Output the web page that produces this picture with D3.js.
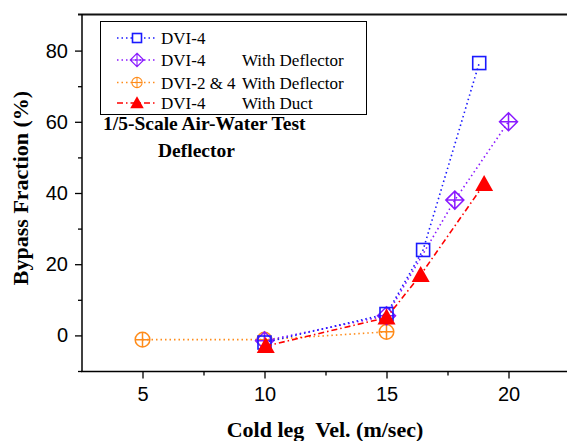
<!DOCTYPE html>
<html><head><meta charset="utf-8">
<script src="https://cdn.jsdelivr.net/npm/d3@7"></script>
<style>body{margin:0;background:#fff;} svg{display:block;}</style>
</head><body>
<svg id="c" width="567" height="441"></svg>
<script>
const seriesNames = ["DVI-4", "DVI-4", "DVI-2 & 4", "DVI-4"];
const seriesNotes = ["", "With Deflector", "With Deflector", "With Duct"];
const dvi4 = [[10,-2],[15,6],[16.5,24],[18.8,76.5]];
const dvi4Deflector = [[10,-1.5],[15,5.5],[17.8,38],[20,60]];
const dvi24Deflector = [[5,-1.2],[10,-1.2],[15,1]];
const dvi4Duct = [[10.05,-3],[15,5],[16.4,17],[19,42.5]];
const xTicks = [5,10,15,20];
const yTicks = [0,20,40,60,80];

const svg = d3.select("#c");
const x = d3.scaleLinear().domain([2.5,22.5]).range([81.5,569.5]);
const y = d3.scaleLinear().domain([-10,90]).range([371,15]);

const series = [
  {data:dvi4, color:"#1a1aff", dash:"1.5,3", marker:"square"},
  {data:dvi4Deflector, color:"#8a1aff", dash:"1.5,3", marker:"diamond"},
  {data:dvi24Deflector, color:"#ff8c1a", dash:"1.5,3", marker:"circle"},
  {data:dvi4Duct, color:"#ff0000", dash:"6,3,1.5,3", marker:"triangle"}
];

function drawMarker(g, type, cx, cy, color){
  if(type==="square"){
    g.append("rect").attr("x",cx-6.5).attr("y",cy-6.5).attr("width",13).attr("height",13)
      .attr("fill","none").attr("stroke",color).attr("stroke-width",1.6);
  } else if(type==="diamond"){
    const r=9;
    g.append("path").attr("d",`M${cx},${cy-r}L${cx+r},${cy}L${cx},${cy+r}L${cx-r},${cy}Z M${cx},${cy-r}V${cy+r} M${cx-r},${cy}H${cx+r}`)
      .attr("fill","none").attr("stroke",color).attr("stroke-width",1.5);
  } else if(type==="circle"){
    const r=7.3;
    g.append("circle").attr("cx",cx).attr("cy",cy).attr("r",r).attr("fill","none").attr("stroke",color).attr("stroke-width",1.5);
    g.append("path").attr("d",`M${cx},${cy-r}V${cy+r} M${cx-r},${cy}H${cx+r}`).attr("stroke",color).attr("stroke-width",1.5);
  } else {
    g.append("path").attr("d",`M${cx},${cy-9}L${cx+9},${cy+7}L${cx-9},${cy+7}Z`).attr("fill",color);
  }
}

// axes frame
svg.append("line").attr("x1",78).attr("x2",567).attr("y1",14.5).attr("y2",14.5).attr("stroke","#111").attr("stroke-width",2);
svg.append("line").attr("x1",82).attr("x2",82).attr("y1",14).attr("y2",372).attr("stroke","#000").attr("stroke-width",1.5);
svg.append("line").attr("x1",81).attr("x2",567).attr("y1",371.5).attr("y2",371.5).attr("stroke","#000").attr("stroke-width",1.5);

const xAxis = d3.axisBottom(x).tickValues(xTicks).tickSize(7).tickFormat(d3.format("d"));
const gx = svg.append("g").attr("transform","translate(0,371.5)").call(xAxis);
gx.select(".domain").remove();
gx.selectAll("line").attr("stroke","#000").attr("stroke-width",1.3);
gx.selectAll("text").attr("font-family","Liberation Sans, Arial, sans-serif").attr("font-size",20).attr("fill","#000").attr("dy","0.95em");
const gxm = svg.append("g").attr("transform","translate(0,371.5)").call(d3.axisBottom(x).tickValues([7.5,12.5,17.5]).tickSize(4).tickFormat(""));
gxm.select(".domain").remove(); gxm.selectAll("line").attr("stroke","#000").attr("stroke-width",1.3);

const yAxis = d3.axisLeft(y).tickValues(yTicks).tickSize(7).tickPadding(7).tickFormat(d3.format("d"));
const gy = svg.append("g").attr("transform","translate(82,0)").call(yAxis);
gy.select(".domain").remove();
gy.selectAll("line").attr("stroke","#000").attr("stroke-width",1.3);
gy.selectAll("text").attr("font-family","Liberation Sans, Arial, sans-serif").attr("font-size",20).attr("fill","#000");
const gym = svg.append("g").attr("transform","translate(82,0)").call(d3.axisLeft(y).tickValues([-10,10,30,50,70]).tickSize(4).tickFormat(""));
gym.select(".domain").remove(); gym.selectAll("line").attr("stroke","#000").attr("stroke-width",1.3);

// titles
svg.append("text").attr("x",325).attr("y",437).attr("text-anchor","middle")
  .attr("font-family","Liberation Serif, Times New Roman, serif").attr("font-weight","bold").attr("font-size",22)
  .text("Cold leg\u00a0\u00a0Vel. (m/sec)");
svg.append("text").attr("transform","translate(28,188) rotate(-90)").attr("text-anchor","middle")
  .attr("font-family","Liberation Serif, Times New Roman, serif").attr("font-weight","bold").attr("font-size",22)
  .text("Bypass Fraction (%)");

// series
const order = [2,1,0,3];
const line = d3.line().x(d=>x(d[0])).y(d=>y(d[1]));
order.forEach(i=>{
  const s = series[i];
  const g = svg.append("g");
  g.append("path").attr("d",line(s.data)).attr("fill","none").attr("stroke",s.color).attr("stroke-width",1.6).attr("stroke-dasharray",s.dash);
  s.data.forEach(d=>drawMarker(g,s.marker,x(d[0]),y(d[1]),s.color));
});

// legend
svg.append("rect").attr("x",100.5).attr("y",21.5).attr("width",266).attr("height",93).attr("fill","#fff").attr("stroke","#000").attr("stroke-width",1);
const ly = [38,60,82.5,103];
series.forEach((s,i)=>{
  const g = svg.append("g");
  g.append("line").attr("x1",117).attr("x2",157).attr("y1",ly[i]).attr("y2",ly[i]).attr("stroke",s.color).attr("stroke-width",1.4).attr("stroke-dasharray",s.dash);
  const mg = g.append("g");
  drawMarker(mg, s.marker, 137, ly[i], s.color);
  if(s.marker==="square") mg.select("rect").attr("x",137-4.5).attr("y",ly[i]-4.5).attr("width",9).attr("height",9).attr("fill","#fff");
  if(s.marker==="diamond") mg.attr("transform",`translate(137,${ly[i]}) scale(0.75) translate(-137,${-ly[i]})`);
  if(s.marker==="circle") mg.attr("transform",`translate(137,${ly[i]}) scale(0.7) translate(-137,${-ly[i]})`);
  if(s.marker==="triangle") mg.attr("transform",`translate(137,${ly[i]}) scale(0.75) translate(-137,${-ly[i]})`);
  g.append("text").attr("x",161).attr("y",ly[i]+6).attr("font-family","Liberation Serif, Times New Roman, serif").attr("font-size",17).text(seriesNames[i]);
  g.append("text").attr("x",242).attr("y",ly[i]+6).attr("font-family","Liberation Serif, Times New Roman, serif").attr("font-size",17).text(seriesNotes[i]);
});

svg.append("text").attr("x",103).attr("y",130).attr("font-family","Liberation Serif, Times New Roman, serif").attr("font-weight","bold").attr("font-size",19.5).text("1/5-Scale Air-Water Test");
svg.append("text").attr("x",158).attr("y",157).attr("font-family","Liberation Serif, Times New Roman, serif").attr("font-weight","bold").attr("font-size",19.5).text("Deflector");
</script>
</body></html>
